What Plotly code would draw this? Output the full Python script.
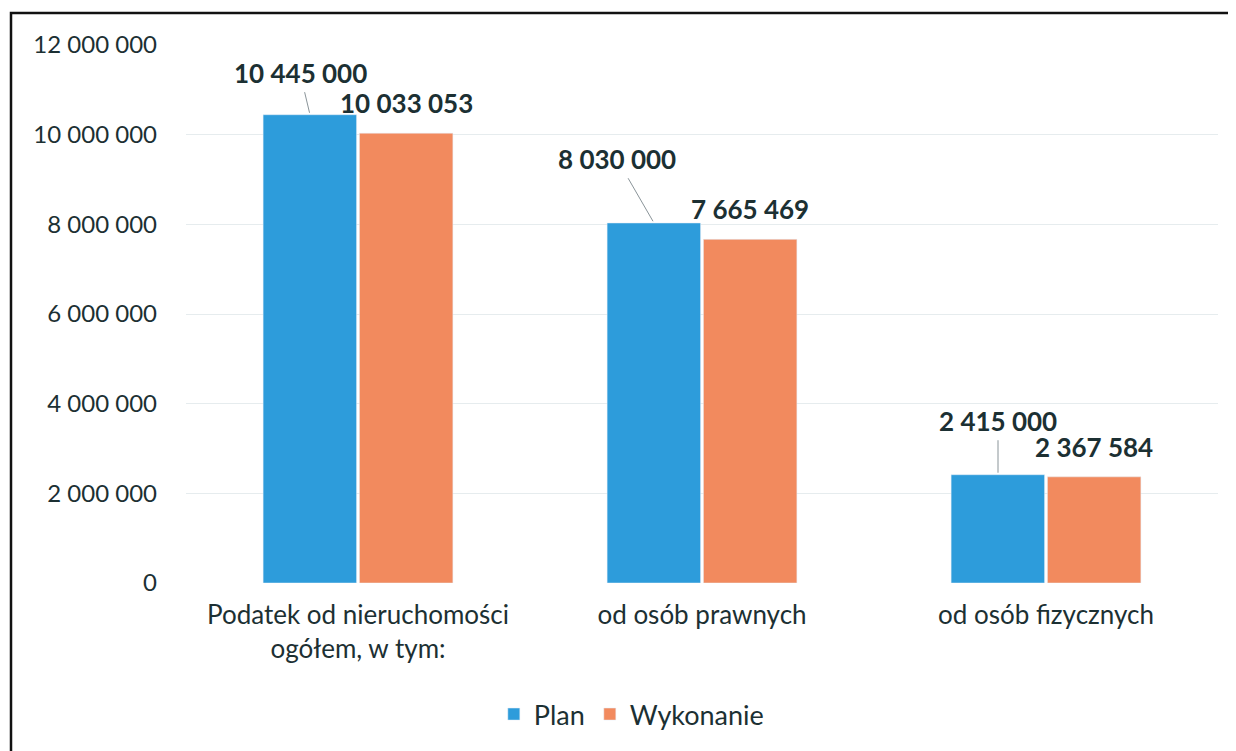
import plotly.graph_objects as go

categories = ["Podatek od nieruchomości<br>ogółem, w tym:", "od osób prawnych", "od osób fizycznych"]
plan = [10445000, 8030000, 2415000]
wykonanie = [10033053, 7665469, 2367584]
tick_vals = [0, 2000000, 4000000, 6000000, 8000000, 10000000, 12000000]
tick_text = ["0", "2 000 000", "4 000 000", "6 000 000", "8 000 000", "10 000 000", "12 000 000"]

# label offsets (px) for plan labels with leader lines
plan_ax = [-10, -37, 0]
plan_ay = [-42, -64, -54]

BLUE = "#2D9CDB"
ORANGE = "#F28A5E"
TXT = "#1C3033"
FONT = "Lato"

def fmt(v):
    return f"{v:,}".replace(",", " ")

fig = go.Figure()
fig.add_trace(go.Bar(name="Plan", x=categories, y=plan, marker_color=BLUE))
fig.add_trace(go.Bar(name="Wykonanie", x=categories, y=wykonanie, marker_color=ORANGE))

OFF = 8  # page body margin
W, H = 1236, 743
L = 186 - OFF
T = 45 - OFF
R = W - (1218 - OFF)
B = H - (585 - OFF)
pw, ph = W - L - R, H - T - B
bar_off = 48

annotations = []
for i, c in enumerate(categories):
    annotations.append(dict(
        x=c, y=plan[i], xref="x", yref="y", xshift=-bar_off,
        text=f"<b>{fmt(plan[i])}</b>", showarrow=True, arrowhead=0,
        arrowwidth=1, arrowcolor="#8a9499", ax=plan_ax[i], ay=plan_ay[i],
        standoff=2, startstandoff=2,
        font=dict(family=FONT, size=26, color=TXT)))
    annotations.append(dict(
        x=c, y=wykonanie[i], xref="x", yref="y", xshift=bar_off, yshift=30,
        text=f"<b>{fmt(wykonanie[i])}</b>", showarrow=False,
        yanchor="middle", xanchor="center",
        font=dict(family=FONT, size=26, color=TXT)))

def px_x(p):
    return (p - OFF - L) / pw

def px_y(p):
    return (H - B - (p - OFF)) / ph

shapes = [dict(type="rect", xref="paper", yref="paper",
               x0=px_x(11), x1=px_x(1250), y0=px_y(770), y1=px_y(13),
               line=dict(color="#111111", width=2.5), fillcolor="rgba(0,0,0,0)", layer="above")]

fig.update_layout(
    width=W, height=H,
    margin=dict(l=L, r=R, t=T, b=B),
    paper_bgcolor="white", plot_bgcolor="white",
    barmode="group", bargap=0.44, bargroupgap=0.03,
    font=dict(family=FONT, size=24, color=TXT),
    xaxis=dict(showgrid=False, showline=False, ticks="", ticklabelstandoff=14,
               tickfont=dict(family=FONT, size=26, color=TXT)),
    yaxis=dict(range=[0, 12000000], tickvals=tick_vals, ticktext=tick_text,
               showgrid=True, gridcolor="#e6ecee", gridwidth=1, zeroline=False,
               showline=False, ticks="", ticklabelstandoff=28,
               tickfont=dict(family=FONT, size=24, color=TXT)),
    legend=dict(orientation="h", x=0.432, xanchor="center", y=px_y(717), yanchor="middle",
                font=dict(family=FONT, size=27, color=TXT), traceorder="normal",
                itemwidth=30),
    annotations=annotations,
    shapes=shapes,
    showlegend=True,
)

fig.write_html("out.html")
